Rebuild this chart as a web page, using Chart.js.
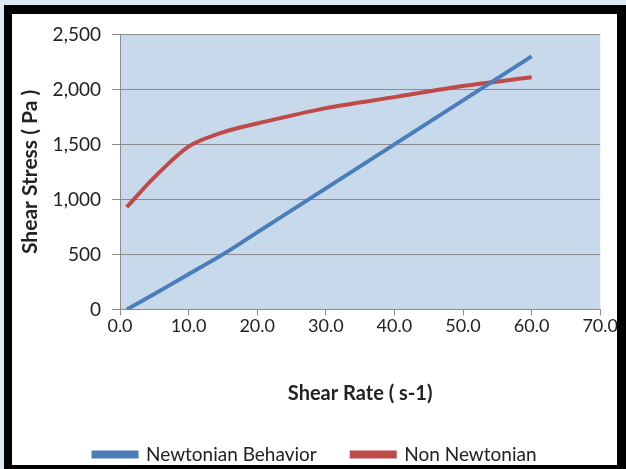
<!DOCTYPE html>
<html>
<head>
<meta charset="utf-8">
<script src="https://cdn.jsdelivr.net/npm/chart.js@4"></script>
<style>
  html, body { margin: 0; padding: 0; }
  body { width: 626px; height: 469px; background: #dfe9f4; position: relative; overflow: hidden; }
  #frame { position: absolute; left: 4px; top: 5px; width: 605px; height: 451px; overflow: hidden;
           border-style: solid; border-color: #000; border-width: 9px 9px 4px 8px; background: #fff; }
  #wrap { position: absolute; left: 0; top: -2px; width: 606px; height: 462px; }
</style>
</head>
<body>
<div id="frame"><div id="wrap"><canvas id="c"></canvas></div></div>
<script>
const shearRate = [1, 5, 10, 15, 20, 30, 40, 50, 60];
const newtonian = [0, 140, 320, 500, 700, 1100, 1500, 1900, 2300];
const nonNewtonian = [930, 1200, 1480, 1610, 1690, 1830, 1930, 2030, 2110];
const xTicks = [0, 10, 20, 30, 40, 50, 60, 70];
const yTicks = [0, 500, 1000, 1500, 2000, 2500];

const plotBg = {
  id: 'plotBg',
  beforeDraw(chart) {
    const { ctx, chartArea: a } = chart;
    ctx.save();
    ctx.fillStyle = '#c9d9ec';
    ctx.fillRect(a.left, a.top, a.right - a.left, a.bottom - a.top);
    ctx.restore();
  }
};

const font = "Lato, 'Open Sans', sans-serif";
new Chart(document.getElementById('c'), {
  type: 'line',
  data: {
    datasets: [
      { label: 'Newtonian Behavior', data: shearRate.map((x, i) => ({ x, y: newtonian[i] })),
        borderColor: '#4a7ebb', backgroundColor: '#4a7ebb', borderWidth: 4, pointRadius: 0, tension: 0.3, fill: false },
      { label: 'Non Newtonian', data: shearRate.map((x, i) => ({ x, y: nonNewtonian[i] })),
        borderColor: '#be4b48', backgroundColor: '#be4b48', borderWidth: 4, pointRadius: 0, tension: 0.3, fill: false }
    ]
  },
  options: {
    responsive: true, maintainAspectRatio: false, animation: false,
    layout: { padding: { left: 0, right: 0, top: 17, bottom: 0 } },
    plugins: {
      tooltip: { enabled: false },
      legend: {
        position: 'bottom',
        labels: { boxWidth: 43, boxHeight: 4, padding: 35, color: '#222', font: { family: font, size: 19 } }
      }
    },
    scales: {
      x: {
        type: 'linear', min: 0, max: 70,
        afterBuildTicks(s) { s.ticks = xTicks.map(v => ({ value: v })); },
        ticks: { color: '#222', font: { family: font, size: 18 }, padding: 0, maxRotation: 0,
                 callback: v => Number(v).toFixed(1) },
        grid: { drawOnChartArea: false, drawTicks: true, tickLength: 6, color: '#8c8c8c' },
        border: { display: true, color: '#8c8c8c' },
        title: { display: true, text: 'Shear Rate ( s-1)', color: '#222',
                 font: { family: font, size: 20, weight: 'bold' }, padding: { top: 45, bottom: 4 } }
      },
      y: {
        min: 0, max: 2500,
        afterBuildTicks(s) { s.ticks = yTicks.map(v => ({ value: v })); },
        afterFit(s) { s.width = 108; },
        ticks: { color: '#222', font: { family: font, size: 19 }, padding: 11,
                 callback: v => Number(v).toLocaleString('en-US') },
        grid: { color: '#8c8c8c', tickLength: 8, drawTicks: true },
        border: { display: true, color: '#8c8c8c' },
        title: { display: true, text: 'Shear Stress ( Pa )', color: '#222',
                 font: { family: font, size: 21, weight: 'bold' }, padding: { top: 6, bottom: 0 } }
      }
    }
  },
  plugins: [plotBg]
});
</script>
</body>
</html>
